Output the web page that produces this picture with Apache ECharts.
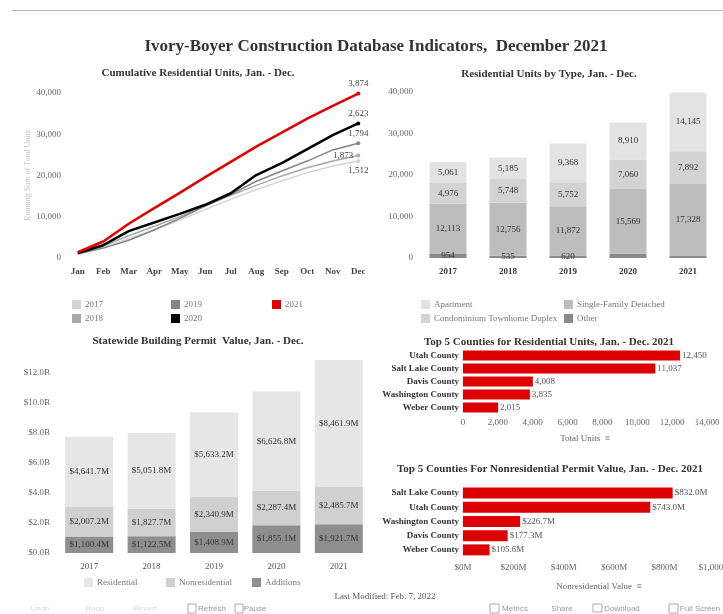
<!DOCTYPE html>
<html><head><meta charset="utf-8">
<script src="https://cdn.jsdelivr.net/npm/echarts@6/dist/echarts.min.js"></script>
<style>html,body{margin:0;padding:0;background:#fff}#c{width:723px;height:614px}</style>
</head><body><div id="c"></div>
<script>
// ---------- data ----------
const months = ['Jan','Feb','Mar','Apr','May','Jun','Jul','Aug','Sep','Oct','Nov','Dec'];
const years = ['2017','2018','2019','2020','2021'];
const cum2017 = [900, 2500, 4700, 6900, 9200, 11800, 14200, 16600, 18700, 20700, 22300, 23512];
const cum2018 = [1000, 2900, 5400, 7700, 10000, 12700, 15200, 17600, 19900, 21900, 23500, 24873];
const cum2019 = [1000, 2400, 4300, 6800, 9600, 12600, 15400, 18600, 21100, 23500, 26200, 27794];
const cum2020 = [1200, 3100, 6500, 8600, 10700, 12900, 15700, 20100, 23000, 26400, 29800, 32623];
const cum2021 = [1400, 4000, 8300, 12100, 15800, 19600, 23300, 27000, 30400, 33800, 36900, 39874];
const cumEndLabels = ['1,512', '1,873', '1,794', '2,623', '3,874'];

const apartment = [5061, 5185, 9368, 8910, 14145];
const condo = [4976, 5748, 5752, 7060, 7892];
const singleFamily = [12113, 12756, 11872, 15569, 17328];
const other = [954, 535, 620, 1084, 509];
const otherLabels = ['954', '535', '620', '', ''];

const residential = [4641.7, 5051.8, 5633.2, 6626.8, 8461.9];
const nonresidential = [2007.2, 1827.7, 2340.9, 2287.4, 2485.7];
const additions = [1100.4, 1122.5, 1408.9, 1855.1, 1921.7];

const resCounties = ['Utah County', 'Salt Lake County', 'Davis County', 'Washington County', 'Weber County'];
const resUnits = [12450, 11037, 4008, 3835, 2015];
const nonresCounties = ['Salt Lake County', 'Utah County', 'Washington County', 'Davis County', 'Weber County'];
const nonresValue = [832.0, 743.0, 226.7, 177.3, 105.6];

// ---------- styling ----------
const SERIF = '"Liberation Serif", "DejaVu Serif", serif';
const SANS = '"Liberation Sans", "DejaVu Sans", sans-serif';
const lineColors = ['#d4d4d4', '#a9a9a9', '#858585', '#000000', '#e00000'];
const lineWidths = [1.5, 1.5, 1.5, 2.5, 2.5];
const endPos = ['bottom', 'left', 'top', 'top', 'top'];
const red = '#dd0000';
const fmtInt = v => Number(v).toLocaleString('en-US');
const fmtM = v => '$' + Number(v).toLocaleString('en-US', {minimumFractionDigits: 1, maximumFractionDigits: 1}) + 'M';

const chart = echarts.init(document.getElementById('c'), null, {renderer: 'canvas'});

const axisLabelBase = {fontFamily: SERIF, fontSize: 9, color: '#666'};
const noLine = {show: false};

const cumSeries = [cum2017, cum2018, cum2019, cum2020, cum2021];
const series = [];
cumSeries.forEach((arr, i) => {
  series.push({
    name: years[i], type: 'line', xAxisIndex: 0, yAxisIndex: 0,
    data: arr.map((v, j) => j === arr.length - 1 ? {
      value: v,
      label: {show: true, formatter: cumEndLabels[i], position: endPos[i], distance: 3,
        fontFamily: SERIF, fontSize: 9, color: '#444'}
    } : v),
    symbol: 'circle',
    symbolSize: (v, p) => p.dataIndex === arr.length - 1 ? 4 : 0,
    lineStyle: {color: lineColors[i], width: lineWidths[i]},
    itemStyle: {color: lineColors[i]},
    z: 2 + i, animation: false
  });
});

const typeLabel = {show: true, position: 'inside', fontFamily: SERIF, fontSize: 9, color: '#333',
  formatter: p => fmtInt(p.value)};
const typeDefs = [
  ['Other', other, '#8a8a8a'],
  ['Single-Family Detached', singleFamily, '#bdbdbd'],
  ['Condominium Townhome Duplex', condo, '#d3d3d3'],
  ['Apartment', apartment, '#e3e3e3']
];
typeDefs.forEach(([name, arr, color]) => {
  series.push({
    name, type: 'bar', stack: 'type', xAxisIndex: 1, yAxisIndex: 1, barWidth: 37,
    data: arr.map((v, j) => name === 'Other'
      ? {value: v, label: {show: otherLabels[j] !== '', formatter: otherLabels[j]}}
      : v),
    itemStyle: {color}, label: typeLabel, animation: false
  });
});

const permitLabel = {show: true, position: 'inside', fontFamily: SERIF, fontSize: 9, color: '#333',
  formatter: p => fmtM(p.value)};
[['Additions', additions, '#8e8e8e'], ['Nonresidential', nonresidential, '#d0d0d0'], ['Residential', residential, '#e6e6e6']]
  .forEach(([name, arr, color]) => {
    series.push({
      name, type: 'bar', stack: 'permit', xAxisIndex: 2, yAxisIndex: 2, barWidth: 48,
      data: arr, itemStyle: {color}, label: permitLabel, animation: false
    });
  });

series.push({
  name: 'Total Units', type: 'bar', xAxisIndex: 3, yAxisIndex: 3, barWidth: 10,
  data: resUnits, itemStyle: {color: red},
  label: {show: true, position: 'right', distance: 2, fontFamily: SERIF, fontSize: 9, color: '#555',
    formatter: p => fmtInt(p.value)},
  animation: false
});
series.push({
  name: 'Nonresidential Value', type: 'bar', xAxisIndex: 4, yAxisIndex: 4, barWidth: 11,
  data: nonresValue, itemStyle: {color: red},
  label: {show: true, position: 'right', distance: 2, fontFamily: SERIF, fontSize: 9, color: '#555',
    formatter: p => fmtM(p.value)},
  animation: false
});

const legendBase = {icon: 'rect', itemWidth: 9, itemHeight: 9, itemGap: 0, padding: 0, selectedMode: false,
  textStyle: {fontFamily: SERIF, fontSize: 9, color: '#777', padding: [0, 0, 0, -1]}};
const legendPos = [
  ['2017', 72, 300], ['2018', 72, 314], ['2019', 171, 300], ['2020', 171, 314], ['2021', 272, 300],
  ['Apartment', 421, 300], ['Condominium Townhome Duplex', 421, 314],
  ['Single-Family Detached', 564, 300], ['Other', 564, 314],
  ['Residential', 84, 578], ['Nonresidential', 166, 578], ['Additions', 252, 578]
];
const legends = legendPos.map(([n, x, y]) => Object.assign({}, legendBase, {data: [n], left: x, top: y}));

const titleFont = 'bold 11px ' + SERIF;
function txt(text, x, y, font, fill, align) {
  return {type: 'text', x, y, silent: true,
    style: {text, font, fill: fill || '#333', align: align || 'center', verticalAlign: 'middle'}};
}
const graphics = [
  {type: 'line', shape: {x1: 12, y1: 10.5, x2: 723, y2: 10.5}, style: {stroke: '#b5b5b5', lineWidth: 1}, silent: true},
  txt('Ivory-Boyer Construction Database Indicators,  December 2021', 376, 47, 'bold 17px ' + SERIF, '#333'),
  txt('Cumulative Residential Units, Jan. - Dec.', 198, 73, titleFont),
  txt('Residential Units by Type, Jan. - Dec.', 549, 74, titleFont),
  txt('Statewide Building Permit  Value, Jan. - Dec.', 198, 341, titleFont),
  txt('Top 5 Counties for Residential Units, Jan. - Dec. 2021', 549, 342, titleFont),
  txt('Top 5 Counties For Nonresidential Permit Value, Jan. - Dec. 2021', 550, 469, titleFont),
  txt('Last Modified: Feb. 7, 2022', 385, 597, '9px ' + SERIF, '#555'),
  txt('Undo', 40, 609, '8px ' + SANS, '#d8d8d8'),
  txt('Redo', 95, 609, '8px ' + SANS, '#d8d8d8'),
  txt('Revert', 145, 609, '8px ' + SANS, '#d8d8d8'),
  txt('Refresh', 212, 609, '8px ' + SANS, '#999'),
  txt('Pause', 255, 609, '8px ' + SANS, '#999'),
  txt('Metrics', 515, 609, '8px ' + SANS, '#999'),
  txt('Share', 562, 609, '8px ' + SANS, '#999'),
  txt('Download', 622, 609, '8px ' + SANS, '#999'),
  txt('Full Screen', 700, 609, '8px ' + SANS, '#999'),
  {type: 'rect', shape: {x: 188, y: 604, width: 8, height: 9}, style: {fill: 'none', stroke: '#aaa', lineWidth: 1}, silent: true},
  {type: 'rect', shape: {x: 235, y: 604, width: 8, height: 9}, style: {fill: 'none', stroke: '#aaa', lineWidth: 1}, silent: true},
  {type: 'rect', shape: {x: 490, y: 604, width: 9, height: 9}, style: {fill: 'none', stroke: '#aaa', lineWidth: 1}, silent: true},
  {type: 'rect', shape: {x: 593, y: 604, width: 9, height: 8}, style: {fill: 'none', stroke: '#aaa', lineWidth: 1}, silent: true},
  {type: 'rect', shape: {x: 669, y: 604, width: 9, height: 9}, style: {fill: 'none', stroke: '#aaa', lineWidth: 1}, silent: true}
];

const gridBase = {outerBoundsMode: 'none', containLabel: false};
const option = {
  backgroundColor: '#ffffff',
  animation: false,
  textStyle: {fontFamily: SERIF},
  grid: [
    Object.assign({left: 65, top: 93, width: 306, height: 165}, gridBase),
    Object.assign({left: 418, top: 92, width: 300, height: 166}, gridBase),
    Object.assign({left: 58, top: 358, width: 312, height: 195}, gridBase),
    Object.assign({left: 463, top: 349, width: 244, height: 65}, gridBase),
    Object.assign({left: 463, top: 486, width: 252, height: 71}, gridBase)
  ],
  xAxis: [
    {gridIndex: 0, type: 'category', data: months, boundaryGap: true, axisLine: noLine, axisTick: noLine,
      axisLabel: Object.assign({}, axisLabelBase, {color: '#444', fontWeight: 'bold', margin: 9})},
    {gridIndex: 1, type: 'category', data: years, axisLine: noLine, axisTick: noLine,
      axisLabel: Object.assign({}, axisLabelBase, {color: '#333', fontWeight: 'bold', margin: 9})},
    {gridIndex: 2, type: 'category', data: years, axisLine: noLine, axisTick: noLine,
      axisLabel: Object.assign({}, axisLabelBase, {color: '#555', margin: 9})},
    {gridIndex: 3, type: 'value', min: 0, max: 14000, interval: 2000, axisLine: noLine, axisTick: noLine,
      splitLine: noLine, axisLabel: Object.assign({}, axisLabelBase, {margin: 4, formatter: v => fmtInt(v)}),
      name: 'Total Units  \u2261', nameLocation: 'middle', nameGap: 20,
      nameTextStyle: {fontFamily: SERIF, fontSize: 9, color: '#666'}},
    {gridIndex: 4, type: 'value', min: 0, max: 1000, interval: 200, axisLine: noLine, axisTick: noLine,
      splitLine: noLine, axisLabel: Object.assign({}, axisLabelBase, {margin: 6, formatter: v => '$' + fmtInt(v) + 'M'}),
      name: 'Nonresidential Value  \u2261', nameLocation: 'middle', nameGap: 25,
      nameTextStyle: {fontFamily: SERIF, fontSize: 9, color: '#666', padding: [0, 0, 0, 20]}}
  ],
  yAxis: [
    {gridIndex: 0, type: 'value', min: 0, max: 40000, interval: 10000, axisLine: noLine, axisTick: noLine,
      splitLine: noLine, axisLabel: Object.assign({}, axisLabelBase, {margin: 4, formatter: v => fmtInt(v)}),
      name: 'Running Sum of Total Units', nameLocation: 'middle', nameGap: 30, nameRotate: 90,
      nameTextStyle: {fontFamily: SERIF, fontSize: 8, color: '#c4c4c4'}},
    {gridIndex: 1, type: 'value', min: 0, max: 40000, interval: 10000, axisLine: noLine, axisTick: noLine,
      splitLine: noLine, axisLabel: Object.assign({}, axisLabelBase, {margin: 5, formatter: v => fmtInt(v)})},
    {gridIndex: 2, type: 'value', min: 0, max: 13000, interval: 2000, axisLine: noLine, axisTick: noLine,
      splitLine: noLine, axisLabel: Object.assign({}, axisLabelBase, {margin: 8, showMaxLabel: false,
        formatter: v => '$' + (v / 1000).toFixed(1) + 'B'})},
    {gridIndex: 3, type: 'category', data: resCounties, inverse: true, axisLine: noLine, axisTick: noLine,
      axisLabel: Object.assign({}, axisLabelBase, {color: '#333', fontWeight: 'bold', margin: 4})},
    {gridIndex: 4, type: 'category', data: nonresCounties, inverse: true, axisLine: noLine, axisTick: noLine,
      axisLabel: Object.assign({}, axisLabelBase, {color: '#333', fontWeight: 'bold', margin: 4})}
  ],
  legend: legends,
  graphic: graphics,
  series
};
chart.setOption(option);
</script>
</body></html>
